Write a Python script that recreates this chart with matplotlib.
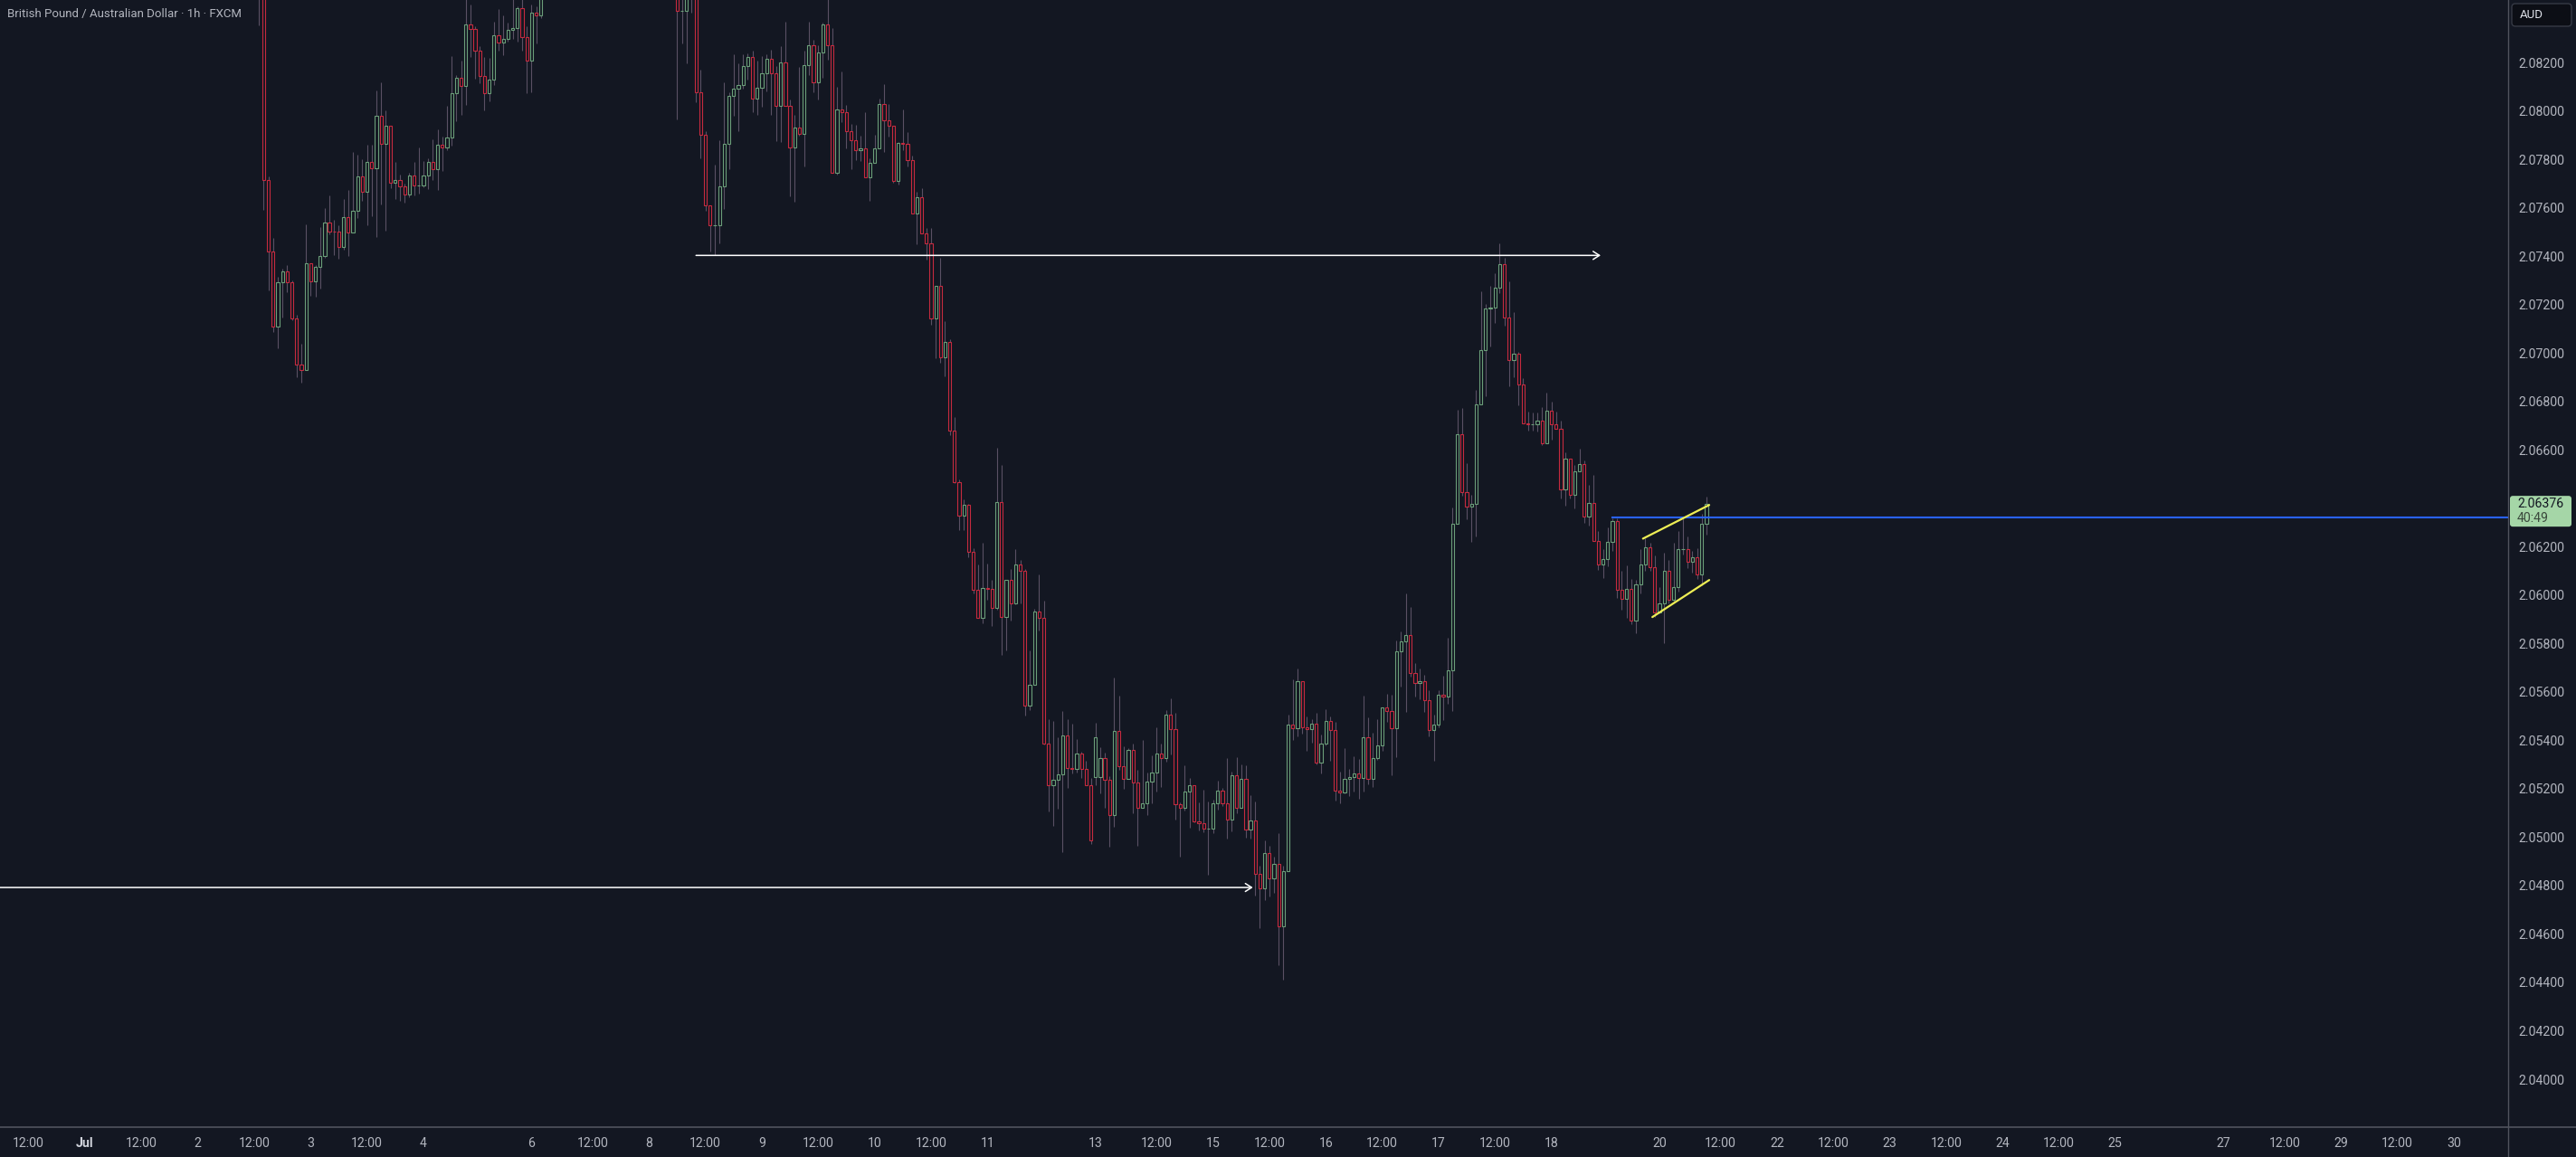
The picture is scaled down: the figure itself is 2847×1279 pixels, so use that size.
import matplotlib
matplotlib.use("Agg")
import matplotlib.pyplot as plt
import numpy as np
import pandas as pd
from matplotlib.patches import FancyBboxPatch
from matplotlib.lines import Line2D
from matplotlib.transforms import IdentityTransform
from matplotlib.ticker import FixedLocator, FormatStrFormatter

# GBPAUD 1h candles (FXCM), first bar at FIRST_BAR, one bar per trading hour
FIRST_BAR = "2025-07-02 10:00"

OPEN = [
    2.0884, 2.0886, 2.0876, 2.0878, 2.0870, 2.07713, 2.07421, 2.07110,
    2.07291, 2.07337, 2.07293, 2.07144, 2.06953, 2.06931, 2.07369, 2.07297,
    2.07355, 2.07399, 2.07537, 2.07502, 2.07500, 2.07436, 2.07563, 2.07499,
    2.07586, 2.07728, 2.07667, 2.07788, 2.07764, 2.07978, 2.07865, 2.07937,
    2.07704, 2.07715, 2.07689, 2.07656, 2.07732, 2.07693, 2.07693, 2.07732,
    2.07788, 2.07760, 2.07859, 2.07850, 2.07889, 2.08072, 2.08135, 2.08104,
    2.08356, 2.08340, 2.08250, 2.08143, 2.08072, 2.08131, 2.08311, 2.08281,
    2.08297, 2.08333, 2.08344, 2.08423, 2.08306, 2.08209, 2.08404, 2.08393,
    2.0852, 2.0858, 2.0863, 2.0868, 2.0862, 2.0866, 2.0877, 2.0881,
    2.0875, 2.0879, 2.0890, 2.0896, 2.0891, 2.0884, 2.0889, 2.0886,
    2.0879, 2.0883, 2.0877, 2.0871, 2.0875, 2.0870, 2.0866, 2.0869,
    2.0864, 2.0860, 2.0857, 2.0854,
    2.08560, 2.08414, 2.08414, 2.08520, 2.08580, 2.08078, 2.07900, 2.07611,
    2.07529, 2.07529, 2.07688, 2.07862, 2.08062, 2.08090, 2.08105, 2.08184,
    2.08221, 2.08049, 2.08094, 2.08155, 2.08214, 2.08154, 2.08022, 2.08202,
    2.08020, 2.07850, 2.07930, 2.07906, 2.08189, 2.08270, 2.08119, 2.08240,
    2.08356, 2.08272, 2.07745, 2.08004, 2.07996, 2.07917, 2.07880, 2.07839,
    2.07847, 2.07727, 2.07784, 2.07847, 2.08027, 2.07962, 2.07940, 2.07712,
    2.07866, 2.07862, 2.07798, 2.07577, 2.07642, 2.07495, 2.07454, 2.07141,
    2.07276, 2.06983, 2.07045, 2.06681, 2.06468, 2.06329, 2.06372, 2.06180,
    2.06020, 2.05907, 2.06029, 2.06025, 2.05948, 2.06384, 2.05910, 2.06063,
    2.05967, 2.06127, 2.06101, 2.05545, 2.05629, 2.05931, 2.05904, 2.05387,
    2.05216, 2.05237, 2.05258, 2.05420, 2.05284, 2.05280, 2.05346, 2.05283,
    2.05213,
    2.05248, 2.05248, 2.05325, 2.05238, 2.05092, 2.05437, 2.05294, 2.05242,
    2.05359, 2.05227, 2.05120, 2.05138, 2.05228, 2.05265, 2.05344, 2.05328,
    2.05505, 2.05447, 2.05137, 2.05122, 2.05190, 2.05213, 2.05066, 2.05059,
    2.05036, 2.05036, 2.05140, 2.05191, 2.05141, 2.05074, 2.05257, 2.05120,
    2.05240, 2.05030, 2.05067, 2.04849, 2.04790, 2.04933, 2.04831, 2.04888,
    2.04633, 2.04858, 2.05464, 2.05451, 2.05646, 2.05454, 2.05447, 2.05470,
    2.05309, 2.05385, 2.05478, 2.05444, 2.05193, 2.05185, 2.05240, 2.05247,
    2.05262, 2.05246, 2.05414, 2.05240, 2.05326, 2.05379, 2.05536, 2.05521,
    2.05450, 2.05768, 2.05807, 2.05834, 2.05679, 2.05636, 2.05646, 2.05565,
    2.05441, 2.05465, 2.05590, 2.05580, 2.05690, 2.06296, 2.06663, 2.06427,
    2.06366, 2.06378, 2.06787, 2.07013, 2.07183, 2.07186, 2.07268, 2.07365,
    2.07147, 2.06972, 2.06997, 2.06871, 2.06710, 2.06704, 2.06704, 2.06719,
    2.06627, 2.06760, 2.06706, 2.06685, 2.06437, 2.06565, 2.06415, 2.06513,
    2.06540, 2.06325, 2.06382, 2.06224, 2.06128, 2.06147, 2.06218, 2.06305,
    2.06022, 2.05985, 2.06025, 2.05895, 2.06043, 2.06128, 2.06199, 2.06116,
    2.05929, 2.05966, 2.06100, 2.05981, 2.06032, 2.06188, 2.06190, 2.06138,
    2.06156, 2.06085, 2.06296,
]

HIGH = [
    2.0892, 2.0890, 2.0883, 2.0884, 2.0874, 2.07730, 2.07474, 2.07314,
    2.07349, 2.07362, 2.07300, 2.07156, 2.07038, 2.07531, 2.07369, 2.07364,
    2.07520, 2.07598, 2.07651, 2.07550, 2.07527, 2.07636, 2.07673, 2.07829,
    2.07818, 2.07800, 2.07860, 2.07860, 2.08084, 2.08118, 2.08002, 2.07937,
    2.07789, 2.07738, 2.07700, 2.07745, 2.07789, 2.07849, 2.07791, 2.07804,
    2.07882, 2.07922, 2.07894, 2.08022, 2.08226, 2.08148, 2.08207, 2.08480,
    2.08439, 2.08348, 2.08268, 2.08221, 2.08217, 2.08368, 2.08420, 2.08393,
    2.08364, 2.08470, 2.08430, 2.08470, 2.08350, 2.08439, 2.08433, 2.08560,
    2.0861, 2.0866, 2.0871, 2.0874, 2.0870, 2.0880, 2.0886, 2.0889,
    2.0884, 2.0893, 2.0901, 2.0904, 2.0897, 2.0892, 2.0895, 2.0890,
    2.0887, 2.0888, 2.0882, 2.0879, 2.0880, 2.0876, 2.0872, 2.0874,
    2.0868, 2.0866, 2.0862, 2.0860,
    2.08610, 2.08480, 2.08550, 2.08620, 2.08630, 2.08169, 2.07916, 2.07611,
    2.07778, 2.07879, 2.08118, 2.08078, 2.08234, 2.08196, 2.08234, 2.08236,
    2.08249, 2.08206, 2.08226, 2.08234, 2.08252, 2.08184, 2.08267, 2.08368,
    2.08047, 2.07985, 2.08181, 2.08249, 2.08368, 2.08295, 2.08270, 2.08364,
    2.08470, 2.08342, 2.08099, 2.08163, 2.08024, 2.07946, 2.07942, 2.07897,
    2.07996, 2.07804, 2.07901, 2.08051, 2.08110, 2.08027, 2.07940, 2.07872,
    2.08007, 2.07912, 2.07815, 2.07666, 2.07681, 2.07516, 2.07516, 2.07276,
    2.07393, 2.07132, 2.07055, 2.06736, 2.06477, 2.06396, 2.06377, 2.06194,
    2.06127, 2.06216, 2.06130, 2.06063, 2.06609, 2.06537, 2.06063, 2.06108,
    2.06188, 2.06145, 2.06108, 2.05771, 2.05943, 2.06085, 2.05977, 2.05487,
    2.05480, 2.05413, 2.05521, 2.05487, 2.05468, 2.05404, 2.05351, 2.05315,
    2.05244,
    2.05472, 2.05371, 2.05349, 2.05253, 2.05660, 2.05584, 2.05374, 2.05368,
    2.05386, 2.05278, 2.05401, 2.05267, 2.05338, 2.05454, 2.05386, 2.05525,
    2.05573, 2.05512, 2.05142, 2.05297, 2.05244, 2.05213, 2.05143, 2.05196,
    2.05147, 2.05153, 2.05232, 2.05203, 2.05325, 2.05272, 2.05329, 2.05300,
    2.05297, 2.05173, 2.05147, 2.04881, 2.04986, 2.04963, 2.04920, 2.05016,
    2.04883, 2.05506, 2.05650, 2.05695, 2.05646, 2.05499, 2.05488, 2.05513,
    2.05425, 2.05528, 2.05498, 2.05477, 2.05270, 2.05366, 2.05281, 2.05333,
    2.05321, 2.05584, 2.05494, 2.05432, 2.05488, 2.05536, 2.05592, 2.05587,
    2.05812, 2.05849, 2.06008, 2.05952, 2.05720, 2.05695, 2.05671, 2.05606,
    2.05506, 2.05606, 2.05666, 2.05824, 2.06363, 2.06765, 2.06774, 2.06545,
    2.06415, 2.06848, 2.07254, 2.07202, 2.07276, 2.07330, 2.07452, 2.07393,
    2.07295, 2.07168, 2.07003, 2.06896, 2.06757, 2.06754, 2.06754, 2.06776,
    2.06836, 2.06798, 2.06757, 2.06720, 2.06589, 2.06565, 2.06537, 2.06604,
    2.06556, 2.06455, 2.06496, 2.06264, 2.06191, 2.06280, 2.06318, 2.06315,
    2.06101, 2.06122, 2.06066, 2.06062, 2.06191, 2.06234, 2.06215, 2.06163,
    2.06032, 2.06174, 2.06146, 2.06215, 2.06265, 2.06318, 2.06243, 2.06183,
    2.06193, 2.06334, 2.06406,
]

LOW = [
    2.0878, 2.0872, 2.0869, 2.08354, 2.07592, 2.07260, 2.07088, 2.07019,
    2.07147, 2.07250, 2.07137, 2.06901, 2.06878, 2.06931, 2.07237, 2.07233,
    2.07267, 2.07393, 2.07492, 2.07405, 2.07390, 2.07428, 2.07399, 2.07499,
    2.07559, 2.07630, 2.07529, 2.07566, 2.07480, 2.07615, 2.07505, 2.07682,
    2.07637, 2.07628, 2.07620, 2.07644, 2.07652, 2.07660, 2.07684, 2.07676,
    2.07715, 2.07673, 2.07753, 2.07839, 2.07856, 2.07957, 2.07985, 2.08026,
    2.08221, 2.08134, 2.08115, 2.08003, 2.08040, 2.08107, 2.08250, 2.08231,
    2.08287, 2.08296, 2.08287, 2.08250, 2.08074, 2.08078, 2.08280, 2.08384,
    2.0849, 2.0853, 2.0857, 2.0860, 2.0856, 2.0863, 2.0870, 2.0872,
    2.0868, 2.0876, 2.0884, 2.0887, 2.0880, 2.0878, 2.0881, 2.0875,
    2.0872, 2.0874, 2.0868, 2.0866, 2.0867, 2.0863, 2.0860, 2.0861,
    2.0856, 2.0853, 2.0850, 2.0849,
    2.07966, 2.08280, 2.08196, 2.08404, 2.08037, 2.07804, 2.07588, 2.07420,
    2.07405, 2.07451, 2.07596, 2.07760, 2.07981, 2.07917, 2.08091, 2.08130,
    2.07994, 2.07985, 2.08018, 2.08080, 2.07985, 2.07876, 2.07872, 2.08020,
    2.07648, 2.07626, 2.07897, 2.07772, 2.08146, 2.08078, 2.08048, 2.08136,
    2.08212, 2.07745, 2.07738, 2.07955, 2.07845, 2.07760, 2.07798, 2.07794,
    2.07727, 2.07630, 2.07784, 2.07847, 2.07831, 2.07895, 2.07703, 2.07695,
    2.07838, 2.07770, 2.07577, 2.07449, 2.07495, 2.07387, 2.07115, 2.06978,
    2.06960, 2.06902, 2.06660, 2.06463, 2.06269, 2.06269, 2.06158, 2.06008,
    2.05907, 2.05885, 2.05979, 2.05874, 2.05940, 2.05754, 2.05773, 2.05893,
    2.05960, 2.05965, 2.05502, 2.05523, 2.05629, 2.05852, 2.05382, 2.05107,
    2.05047, 2.05116, 2.04939, 2.05202, 2.05262, 2.05267, 2.05244, 2.05213,
    2.04970,
    2.05216, 2.05182, 2.05122, 2.04962, 2.05043, 2.05279, 2.05199, 2.05242,
    2.05100, 2.04965, 2.05120, 2.05092, 2.05138, 2.05188, 2.05208, 2.05313,
    2.05341, 2.05074, 2.04920, 2.05111, 2.05040, 2.05061, 2.05029, 2.05020,
    2.04846, 2.05016, 2.05115, 2.05130, 2.04995, 2.05025, 2.05100, 2.05120,
    2.04999, 2.04995, 2.04760, 2.04625, 2.04740, 2.04756, 2.04771, 2.04472,
    2.04412, 2.04858, 2.05402, 2.05417, 2.05429, 2.05358, 2.05391, 2.05302,
    2.05262, 2.05380, 2.05317, 2.05150, 2.05140, 2.05180, 2.05170, 2.05188,
    2.05160, 2.05188, 2.05218, 2.05207, 2.05320, 2.05355, 2.05476, 2.05255,
    2.05329, 2.05621, 2.05518, 2.05664, 2.05580, 2.05570, 2.05516, 2.05417,
    2.05317, 2.05454, 2.05484, 2.05550, 2.05521, 2.06296, 2.06410, 2.06314,
    2.06220, 2.06242, 2.06787, 2.06821, 2.07028, 2.07125, 2.07249, 2.07112,
    2.06863, 2.06901, 2.06785, 2.06710, 2.06679, 2.06680, 2.06677, 2.06620,
    2.06627, 2.06641, 2.06685, 2.06400, 2.06370, 2.06400, 2.06359, 2.06512,
    2.06300, 2.06288, 2.06224, 2.06103, 2.06072, 2.06120, 2.06184, 2.05989,
    2.05941, 2.05904, 2.05879, 2.05844, 2.06007, 2.06101, 2.06101, 2.05910,
    2.05923, 2.05802, 2.05966, 2.05972, 2.06016, 2.06166, 2.06113, 2.06091,
    2.06066, 2.06041, 2.06250,
]

CLOSE = [
    2.0886, 2.0876, 2.0878, 2.0870, 2.07713, 2.07421, 2.07110, 2.07291,
    2.07337, 2.07293, 2.07144, 2.06953, 2.06931, 2.07369, 2.07297, 2.07355,
    2.07399, 2.07537, 2.07502, 2.07500, 2.07436, 2.07563, 2.07499, 2.07586,
    2.07728, 2.07667, 2.07788, 2.07764, 2.07978, 2.07865, 2.07937, 2.07704,
    2.07715, 2.07689, 2.07656, 2.07732, 2.07693, 2.07693, 2.07732, 2.07788,
    2.07760, 2.07859, 2.07850, 2.07889, 2.08072, 2.08135, 2.08104, 2.08356,
    2.08340, 2.08250, 2.08143, 2.08072, 2.08131, 2.08311, 2.08281, 2.08297,
    2.08333, 2.08344, 2.08423, 2.08306, 2.08209, 2.08404, 2.08393, 2.08520,
    2.0858, 2.0863, 2.0868, 2.0862, 2.0866, 2.0877, 2.0881, 2.0875,
    2.0879, 2.0890, 2.0896, 2.0891, 2.0884, 2.0889, 2.0886, 2.0879,
    2.0883, 2.0877, 2.0871, 2.0875, 2.0870, 2.0866, 2.0869, 2.0864,
    2.0860, 2.0857, 2.0854, 2.0856,
    2.08414, 2.08414, 2.08520, 2.08580, 2.08078, 2.07900, 2.07611, 2.07529,
    2.07529, 2.07688, 2.07862, 2.08062, 2.08090, 2.08105, 2.08184, 2.08221,
    2.08049, 2.08094, 2.08155, 2.08214, 2.08154, 2.08022, 2.08202, 2.08020,
    2.07850, 2.07930, 2.07906, 2.08189, 2.08270, 2.08119, 2.08240, 2.08356,
    2.08272, 2.07745, 2.08004, 2.07996, 2.07917, 2.07880, 2.07839, 2.07847,
    2.07727, 2.07784, 2.07847, 2.08027, 2.07962, 2.07940, 2.07712, 2.07866,
    2.07862, 2.07798, 2.07577, 2.07642, 2.07495, 2.07454, 2.07141, 2.07276,
    2.06983, 2.07045, 2.06681, 2.06468, 2.06329, 2.06372, 2.06180, 2.06020,
    2.05907, 2.06029, 2.06025, 2.05948, 2.06384, 2.05910, 2.06063, 2.05967,
    2.06127, 2.06101, 2.05545, 2.05629, 2.05931, 2.05904, 2.05387, 2.05216,
    2.05237, 2.05258, 2.05420, 2.05284, 2.05280, 2.05346, 2.05283, 2.05213,
    2.04985,
    2.05411, 2.05325, 2.05238, 2.05092, 2.05437, 2.05294, 2.05242, 2.05359,
    2.05227, 2.05120, 2.05138, 2.05228, 2.05265, 2.05344, 2.05328, 2.05505,
    2.05447, 2.05137, 2.05122, 2.05190, 2.05213, 2.05066, 2.05059, 2.05036,
    2.05036, 2.05140, 2.05191, 2.05141, 2.05074, 2.05257, 2.05120, 2.05240,
    2.05030, 2.05067, 2.04849, 2.04790, 2.04933, 2.04831, 2.04888, 2.04633,
    2.04858, 2.05464, 2.05451, 2.05646, 2.05454, 2.05447, 2.05470, 2.05309,
    2.05385, 2.05478, 2.05444, 2.05193, 2.05185, 2.05240, 2.05247, 2.05262,
    2.05246, 2.05414, 2.05240, 2.05326, 2.05379, 2.05536, 2.05521, 2.05450,
    2.05768, 2.05807, 2.05834, 2.05679, 2.05636, 2.05646, 2.05565, 2.05441,
    2.05465, 2.05590, 2.05580, 2.05690, 2.06296, 2.06663, 2.06427, 2.06366,
    2.06378, 2.06787, 2.07013, 2.07183, 2.07186, 2.07268, 2.07365, 2.07147,
    2.06972, 2.06997, 2.06871, 2.06710, 2.06704, 2.06704, 2.06719, 2.06627,
    2.06760, 2.06706, 2.06685, 2.06437, 2.06565, 2.06415, 2.06513, 2.06540,
    2.06325, 2.06382, 2.06224, 2.06128, 2.06147, 2.06218, 2.06305, 2.06022,
    2.05985, 2.06025, 2.05895, 2.06043, 2.06128, 2.06199, 2.06116, 2.05929,
    2.05966, 2.06100, 2.05981, 2.06032, 2.06188, 2.06190, 2.06138, 2.06156,
    2.06085, 2.06296, 2.06376,
]

# price scale labels shown on the right (2.06400 sits under the price box)
Y_TICKS = [
    2.040, 2.042, 2.044, 2.046, 2.048, 2.050, 2.052, 2.054, 2.056, 2.058,
    2.060, 2.062, 2.066, 2.068, 2.070, 2.072, 2.074, 2.076, 2.078, 2.080, 2.082,
]

TICK_TIMES = [
    "2025-06-30 12:00", "2025-07-01 00:00", "2025-07-01 12:00", "2025-07-02 00:00",
    "2025-07-02 12:00", "2025-07-03 00:00", "2025-07-03 12:00", "2025-07-04 00:00",
    "2025-07-06 23:00", "2025-07-07 12:00", "2025-07-08 00:00", "2025-07-08 12:00",
    "2025-07-09 00:00", "2025-07-09 12:00", "2025-07-10 00:00", "2025-07-10 12:00",
    "2025-07-11 00:00", "2025-07-13 23:00", "2025-07-14 12:00", "2025-07-15 00:00",
    "2025-07-15 12:00", "2025-07-16 00:00", "2025-07-16 12:00", "2025-07-17 00:00",
    "2025-07-17 12:00", "2025-07-18 00:00", "2025-07-20 23:00", "2025-07-21 12:00",
    "2025-07-22 00:00", "2025-07-22 12:00", "2025-07-23 00:00", "2025-07-23 12:00",
    "2025-07-24 00:00", "2025-07-24 12:00", "2025-07-25 00:00", "2025-07-27 23:00",
    "2025-07-28 12:00", "2025-07-29 00:00", "2025-07-29 12:00", "2025-07-30 00:00",
]
TICK_LABELS = [
    "12:00", "Jul", "12:00", "2", "12:00", "3", "12:00", "4",
    "6", "12:00", "8", "12:00", "9", "12:00", "10", "12:00",
    "11", "13", "12:00", "15", "12:00", "16", "12:00", "17",
    "12:00", "18", "20", "12:00", "22", "12:00", "23", "12:00",
    "24", "12:00", "25", "27", "12:00", "29", "12:00", "30",
]

# drawings on the chart: (time, price)
UPPER_ARROW = [("2025-07-08 10:00", 2.07403), ("2025-07-18 10:30", 2.07403)]
LOWER_ARROW = [("2025-06-30 00:00", 2.04792), ("2025-07-15 08:30", 2.04792)]
BLUE_RAY = [("2025-07-18 13:00", 2.06320)]
CHANNEL_TOP = [("2025-07-18 19:30", 2.06233), ("2025-07-21 09:36", 2.06372)]
CHANNEL_BOTTOM = [("2025-07-18 21:30", 2.05909), ("2025-07-21 09:36", 2.06062)]

TITLE = "British Pound / Australian Dollar · 1h · FXCM"
COUNTDOWN = "40:49"
CURRENCY = "AUD"

BG = "#131722"
UP = "#6b9e79"
DOWN = "#c62a3f"
WICK = "#5a5064"
TEXT = "#b2b5be"

W, H = 2847, 1279
PLOT_RIGHT = 2772
PLOT_BOTTOM = 1246


def trading_hours():
    hours = pd.date_range("2025-06-29 00:00", "2025-08-02 00:00", freq="h")
    keep = []
    for t in hours:
        if t.weekday() == 5:
            continue
        if t.weekday() == 4 and t.hour == 23:
            continue
        if t.weekday() == 6 and t.hour < 23:
            continue
        keep.append(t)
    return pd.DatetimeIndex(keep)


CAL = trading_hours()
ORIGIN = CAL.get_loc(pd.Timestamp("2025-07-01 00:00"))


def bar_pos(ts):
    t = pd.Timestamp(ts)
    base = t.floor("h")
    return CAL.get_loc(base) - ORIGIN + (t - base).total_seconds() / 3600.0


plt.rcParams["font.family"] = ["Roboto", "DejaVu Sans"]

fig = plt.figure(figsize=(W / 100, H / 100), dpi=100, facecolor=BG)
ax = fig.add_axes([0, (H - PLOT_BOTTOM) / H, PLOT_RIGHT / W, PLOT_BOTTOM / H])
ax.set_facecolor(BG)

o = np.array(OPEN)
h = np.array(HIGH)
l = np.array(LOW)
c = np.array(CLOSE)
start = bar_pos(FIRST_BAR)
x = start + np.arange(len(c))
up = c >= o

ax.vlines(x, l, h, color=WICK, lw=0.8, zorder=2)
ax.bar(x[up], (c - o)[up], bottom=o[up], width=0.62, facecolor=BG,
       edgecolor=UP, linewidth=0.8, zorder=3)
ax.bar(x[~up], (o - c)[~up], bottom=c[~up], width=0.62, facecolor=BG,
       edgecolor=DOWN, linewidth=0.8, zorder=3)

arrow_style = dict(arrowstyle="->,head_length=0.5,head_width=0.32", color="#ffffff",
                   lw=1.1, shrinkA=0, shrinkB=0)
for (t0, p0), (t1, p1) in [UPPER_ARROW, LOWER_ARROW]:
    ax.annotate("", xy=(bar_pos(t1), p1), xytext=(bar_pos(t0), p0),
                arrowprops=arrow_style, zorder=4)

t0, p0 = BLUE_RAY[0]
ax.plot([bar_pos(t0), 10000], [p0, p0], color="#2962ff", lw=1.5, zorder=4)

for line in [CHANNEL_TOP, CHANNEL_BOTTOM]:
    xs = [bar_pos(t) for t, _ in line]
    ys = [p for _, p in line]
    ax.plot(xs, ys, color="#eeee55", lw=1.6, solid_capstyle="round", zorder=5)

# visible window (bar units, bar spacing ~5.2 px)
ax.set_xlim(-18.1, 515.6)
ax.set_ylim(2.03802, 2.08458)

for s in ax.spines.values():
    s.set_visible(False)

ax.yaxis.tick_right()
ax.yaxis.set_major_locator(FixedLocator(Y_TICKS))
ax.yaxis.set_major_formatter(FormatStrFormatter("%.5f"))
ax.tick_params(axis="y", length=0, pad=8, labelsize=10.2, colors=TEXT)

ax.set_xticks([bar_pos(t) for t in TICK_TIMES])
ax.set_xticklabels(TICK_LABELS)
ax.tick_params(axis="x", length=0, pad=8, labelsize=10.2, colors=TEXT)
for lab in ax.get_xticklabels():
    if lab.get_text() == "Jul":
        lab.set_fontweight("bold")
        lab.set_color("#d1d4dc")

# axis separators
fig.add_artist(Line2D([0, 1], [(H - PLOT_BOTTOM) / H] * 2, color="#50535e", lw=1.2))
fig.add_artist(Line2D([PLOT_RIGHT / W] * 2, [0, 1], color="#50535e", lw=1.0))

fig.text(8 / W, 1 - 16 / H, TITLE, color=TEXT, fontsize=9.5, va="center", ha="left")

# last price label
fig.canvas.draw()
py = ax.transData.transform((0, c[-1]))[1]
box = FancyBboxPatch((PLOT_RIGHT + 2, py - 25), 68, 34,
                     boxstyle="round,pad=0,rounding_size=3",
                     facecolor="#a5d6a7", edgecolor="none",
                     transform=IdentityTransform(), zorder=10)
fig.add_artist(box)
fig.text((PLOT_RIGHT + 10) / W, py / H, f"{c[-1]:.5f}", color="#131722",
         fontsize=10.2, va="center", ha="left", zorder=11)
fig.text((PLOT_RIGHT + 10) / W, (py - 16) / H, COUNTDOWN, color="#3b4a3d",
         fontsize=10.2, va="center", ha="left", zorder=11)

# currency box
cur = FancyBboxPatch((2776, H - 29), 66, 25, boxstyle="round,pad=0,rounding_size=4",
                     facecolor="#0c0e15", edgecolor="#363a45", lw=1.0,
                     transform=IdentityTransform(), zorder=10)
fig.add_artist(cur)
fig.text(2785 / W, 1 - 16.5 / H, CURRENCY, color="#e0e3eb", fontsize=9.5,
         va="center", ha="left", zorder=11)

fig.savefig("out.png", dpi=100, facecolor=BG)
